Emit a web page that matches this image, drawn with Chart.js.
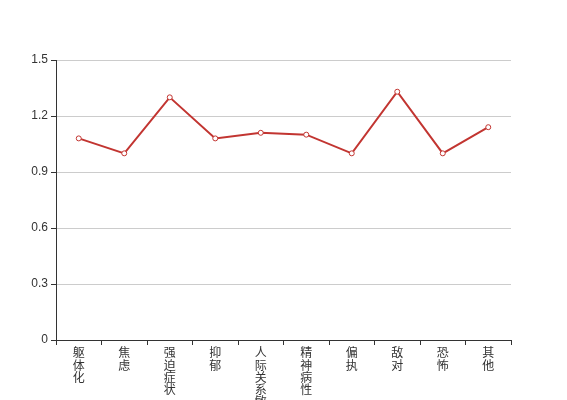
<!DOCTYPE html>
<html>
<head>
<meta charset="utf-8">
<script src="https://cdn.jsdelivr.net/npm/chart.js@4/dist/chart.umd.min.js"></script>
<style>
  html, body { margin: 0; padding: 0; background: #fff; }
  #wrap { width: 567px; height: 400px; }
</style>
</head>
<body>
<div id="wrap"><canvas id="scl"></canvas></div>
<script>
var factors = ['躯体化', '焦虑', '强迫症状', '抑郁', '人际关系敏感', '精神病性', '偏执', '敌对', '恐怖', '其他'];
var scores = [1.08, 1.00, 1.30, 1.08, 1.11, 1.10, 1.00, 1.33, 1.00, 1.14];
var yTicks = [0, 0.3, 0.6, 0.9, 1.2, 1.5];

// one character per line, labels read top to bottom
var stacked = factors.map(function (f) { return f.split(''); });

var font = '"Liberation Sans", Arial, "Noto Sans CJK SC", sans-serif';

var ctx = document.getElementById('scl').getContext('2d');
var chart = new Chart(ctx, {
    type: 'line',
    data: {
        labels: stacked,
        datasets: [{
            data: scores,
            borderColor: '#c23531',
            borderWidth: 2,
            backgroundColor: '#fff',
            pointBackgroundColor: '#fff',
            pointBorderColor: '#c23531',
            pointBorderWidth: 1,
            pointRadius: 2.5,
            tension: 0,
            fill: false
        }]
    },
    options: {
        responsive: true,
        maintainAspectRatio: false,
        animation: false,
        layout: { padding: { top: 60, right: 56, left: 0, bottom: 0 } },
        plugins: {
            legend: { display: false },
            tooltip: { enabled: false }
        },
        scales: {
            x: {
                offset: true,
                grid: {
                    offset: true,
                    drawOnChartArea: false,
                    drawTicks: true,
                    tickLength: 5,
                    tickColor: '#333'
                },
                border: { color: '#333', width: 1 },
                ticks: {
                    autoSkip: false,
                    maxRotation: 0,
                    minRotation: 0,
                    padding: 3,
                    color: '#333',
                    font: { family: font, size: 12, lineHeight: 1.02 }
                },
                afterFit: function (scale) { scale.height = 60; }
            },
            y: {
                min: 0,
                max: 1.5,
                afterBuildTicks: function (scale) {
                    scale.ticks = yTicks.map(function (v) { return { value: v }; });
                },
                grid: {
                    color: '#ccc',
                    tickColor: '#333',
                    tickLength: 5
                },
                border: { color: '#333', width: 1 },
                ticks: {
                    padding: 3,
                    color: '#333',
                    font: { family: font, size: 12 },
                    callback: function (v) { return String(v); }
                },
                afterFit: function (scale) { scale.width = 56; }
            }
        }
    }
});
</script>
</body>
</html>
